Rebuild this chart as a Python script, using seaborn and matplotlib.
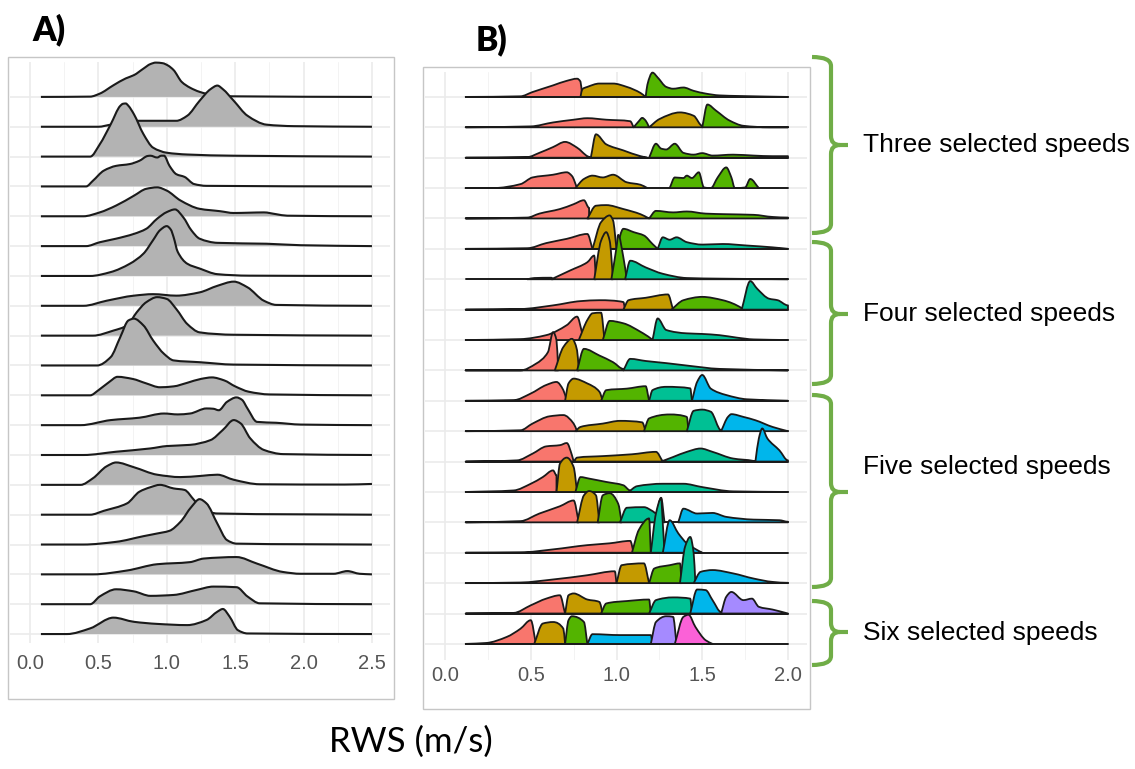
import matplotlib
matplotlib.use("Agg")
import matplotlib.pyplot as plt
from matplotlib.patches import Rectangle, PathPatch
from matplotlib.path import Path
import seaborn as sns

# ---- data: (RWS, ridge height in row units) ----
ridges_a = [
    [(0.08, 0), (0.44, 0.01), (0.51, 0.11), (0.61, 0.39), (0.70, 0.62), (0.76, 0.73), (0.83, 0.95), (0.88, 1.10),
     (0.92, 1.15), (0.97, 1.13), (1.01, 1.05), (1.05, 0.90), (1.11, 0.50), (1.17, 0.31), (1.24, 0.17), (1.34, 0.06),
     (1.49, 0.02), (2.5, 0)],
    [(0.08, 0), (0.50, 0.0), (0.59, 0.07), (0.80, 0.20), (1.00, 0.20), (1.07, 0.20), (1.15, 0.37), (1.24, 0.87),
     (1.32, 1.26), (1.37, 1.38), (1.41, 1.26), (1.49, 0.87), (1.59, 0.37), (1.73, 0.07), (1.93, 0.02), (2.5, 0)],
    [(0.08, 0), (0.44, 0), (0.51, 0.41), (0.59, 1.08), (0.66, 1.70), (0.68, 1.77), (0.70, 1.78), (0.72, 1.70),
     (0.76, 1.42), (0.83, 0.75), (0.90, 0.30), (1.00, 0.13), (1.15, 0.07), (1.49, 0.03), (2.5, 0)],
    [(0.08, 0), (0.41, 0), (0.46, 0.19), (0.54, 0.53), (0.63, 0.69), (0.73, 0.75), (0.80, 0.86), (0.86, 1.02),
     (0.88, 1.03), (0.93, 0.97), (0.96, 1.03), (0.98, 1.03), (1.02, 0.69), (1.07, 0.41), (1.13, 0.32), (1.20, 0.08),
     (1.29, 0.02), (2.5, 0)],
    [(0.08, 0), (0.39, 0), (0.51, 0.13), (0.63, 0.36), (0.76, 0.69), (0.85, 0.92), (0.93, 0.97), (1.00, 0.86),
     (1.10, 0.53), (1.24, 0.25), (1.39, 0.17), (1.49, 0.11), (1.60, 0.12), (1.71, 0.13), (1.80, 0.07), (1.88, 0.02),
     (2.5, 0)],
    [(0.08, 0), (0.41, 0), (0.51, 0.13), (0.63, 0.25), (0.76, 0.41), (0.85, 0.58), (0.93, 0.92), (1.00, 1.14),
     (1.06, 1.23), (1.12, 0.97), (1.18, 0.53), (1.24, 0.25), (1.37, 0.11), (1.73, 0.08), (1.98, 0.03), (2.5, 0)],
    [(0.08, 0), (0.44, 0), (0.59, 0.13), (0.73, 0.41), (0.83, 0.75), (0.90, 1.20), (0.95, 1.53), (1.00, 1.67),
     (1.03, 1.55), (1.05, 1.30), (1.08, 0.81), (1.15, 0.41), (1.24, 0.25), (1.37, 0.06), (1.6, 0.01), (2.5, 0)],
    [(0.08, 0), (0.39, 0), (0.56, 0.17), (0.76, 0.34), (0.90, 0.39), (1.07, 0.34), (1.24, 0.45), (1.37, 0.67),
     (1.49, 0.81), (1.59, 0.62), (1.71, 0.17), (1.80, 0.03), (2.5, 0)],
    [(0.08, 0), (0.46, 0), (0.61, 0.17), (0.71, 0.34), (0.78, 0.78), (0.85, 1.12), (0.93, 1.29), (1.00, 1.23),
     (1.07, 0.89), (1.15, 0.39), (1.24, 0.11), (1.49, 0.03), (2.5, 0)],
    [(0.08, 0), (0.49, 0), (0.59, 0.28), (0.66, 0.95), (0.72, 1.51), (0.76, 1.57), (0.83, 1.34), (0.90, 0.84),
     (0.98, 0.39), (1.05, 0.17), (1.24, 0.11), (1.49, 0.03), (2.5, 0)],
    [(0.08, 0), (0.44, 0), (0.50, 0.17), (0.58, 0.45), (0.64, 0.62), (0.75, 0.55), (0.85, 0.40), (0.95, 0.27),
     (1.05, 0.30), (1.15, 0.42), (1.25, 0.55), (1.33, 0.60), (1.42, 0.50), (1.50, 0.30), (1.60, 0.12), (1.75, 0.03),
     (2.5, 0)],
    [(0.08, 0), (0.37, 0), (0.59, 0.17), (0.80, 0.25), (0.98, 0.39), (1.08, 0.36), (1.17, 0.39), (1.29, 0.56),
     (1.34, 0.55), (1.38, 0.50), (1.44, 0.78), (1.51, 0.93), (1.55, 0.85), (1.59, 0.56), (1.66, 0.11), (1.80, 0.08),
     (1.98, 0.02), (2.5, 0)],
    [(0.08, 0), (0.39, 0), (0.63, 0.11), (0.88, 0.22), (1.00, 0.30), (1.17, 0.34), (1.32, 0.50), (1.41, 0.84),
     (1.49, 1.17), (1.54, 1.06), (1.61, 0.56), (1.71, 0.17), (1.85, 0.03), (2.5, 0)],
    [(0.08, 0), (0.37, 0), (0.46, 0.22), (0.56, 0.62), (0.63, 0.75), (0.76, 0.59), (0.93, 0.34), (1.10, 0.26),
     (1.25, 0.30), (1.37, 0.34), (1.49, 0.17), (1.68, 0.02), (2.3, 0.01), (2.5, 0.03)],
    [(0.08, 0), (0.44, 0), (0.54, 0.13), (0.71, 0.38), (0.80, 0.77), (0.88, 0.92), (0.95, 1.00), (1.05, 0.88),
     (1.13, 0.83), (1.20, 0.49), (1.27, 0.16), (1.37, 0.04), (2.5, 0)],
    [(0.08, 0), (0.39, 0), (0.63, 0.09), (0.83, 0.28), (0.93, 0.37), (1.02, 0.46), (1.10, 0.76), (1.18, 1.26),
     (1.24, 1.52), (1.29, 1.38), (1.37, 0.70), (1.44, 0.15), (1.51, 0.03), (2.5, 0)],
    [(0.08, 0), (0.46, 0), (0.71, 0.13), (0.93, 0.34), (1.17, 0.41), (1.27, 0.53), (1.51, 0.58), (1.66, 0.36),
     (1.85, 0.08), (1.98, 0.02), (2.22, 0.02), (2.32, 0.11), (2.41, 0.02), (2.5, 0)],
    [(0.08, 0), (0.44, 0), (0.51, 0.26), (0.63, 0.50), (0.76, 0.43), (0.88, 0.28), (1.05, 0.31), (1.22, 0.48),
     (1.34, 0.59), (1.51, 0.57), (1.59, 0.26), (1.68, 0.03), (2.5, 0)],
    [(0.08, 0), (0.27, 0), (0.44, 0.19), (0.61, 0.55), (0.76, 0.41), (0.93, 0.34), (1.15, 0.30), (1.29, 0.47),
     (1.37, 0.75), (1.41, 0.84), (1.46, 0.58), (1.52, 0.13), (1.59, 0.02), (2.5, 0)],
]

# panel B: each row is a list of (cluster colour index, outline points)
ridges_b = [
    [(0, [(0.12, 0), (0.44, 0.02), (0.51, 0.16), (0.63, 0.38), (0.71, 0.53), (0.77, 0.60), (0.79, 0.50), (0.80, 0)]),
     (1, [(0.79, 0), (0.80, 0.25), (0.83, 0.33), (0.90, 0.44), (0.98, 0.44), (1.06, 0.33), (1.14, 0.13), (1.17, 0)]),
     (2, [(1.17, 0), (1.18, 0.40), (1.21, 0.80), (1.24, 0.64), (1.29, 0.33), (1.33, 0.27), (1.39, 0.31), (1.45, 0.20),
          (1.52, 0.11), (1.60, 0.05), (1.72, 0.03), (2.0, 0)])],
    [(0, [(0.12, 0), (0.50, 0.03), (0.63, 0.16), (0.75, 0.25), (0.83, 0.30), (0.94, 0.25), (1.08, 0.20), (1.10, 0)]),
     (2, [(1.10, 0), (1.13, 0.20), (1.15, 0.31), (1.17, 0.22), (1.19, 0)]),
     (1, [(1.19, 0), (1.25, 0.27), (1.37, 0.49), (1.45, 0.38), (1.50, 0.05), (1.50, 0)]),
     (2, [(1.50, 0), (1.53, 0.75), (1.58, 0.55), (1.66, 0.22), (1.74, 0.05), (1.89, 0), (2.0, 0)])],
    [(0, [(0.12, 0), (0.48, 0.02), (0.55, 0.16), (0.63, 0.35), (0.70, 0.52), (0.77, 0.33), (0.83, 0.05), (0.85, 0)]),
     (1, [(0.85, 0), (0.88, 0.77), (0.94, 0.44), (1.04, 0.24), (1.14, 0.05), (1.18, 0)]),
     (2, [(1.19, 0), (1.23, 0.46), (1.26, 0.30), (1.29, 0.27), (1.34, 0.46), (1.39, 0.16), (1.45, 0.10), (1.50, 0.15),
          (1.56, 0.07), (1.68, 0.10), (1.80, 0.07), (1.91, 0.05), (2.0, 0.05), (2.0, 0)])],
    [(0, [(0.12, 0), (0.28, 0), (0.44, 0.13), (0.51, 0.35), (0.63, 0.44), (0.71, 0.52), (0.74, 0.40), (0.77, 0)]),
     (1, [(0.76, 0), (0.81, 0.30), (0.86, 0.41), (0.92, 0.35), (0.98, 0.44), (1.06, 0.19), (1.14, 0.11), (1.18, 0)]),
     (2, [(1.31, 0), (1.34, 0.35), (1.39, 0.33), (1.41, 0.41), (1.44, 0.33), (1.48, 0.52), (1.51, 0.02), (1.55, 0),
          (1.59, 0.35), (1.64, 0.68), (1.67, 0.35), (1.69, 0), (1.75, 0.02), (1.78, 0.30), (1.83, 0)])],
    [(0, [(0.12, 0), (0.48, 0.03), (0.55, 0.16), (0.67, 0.31), (0.75, 0.47), (0.81, 0.60), (0.84, 0.35), (0.84, 0)]),
     (1, [(0.83, 0), (0.88, 0.42), (0.94, 0.44), (1.04, 0.31), (1.14, 0.14), (1.19, 0)]),
     (2, [(1.19, 0), (1.23, 0.25), (1.33, 0.20), (1.41, 0.23), (1.52, 0.16), (1.64, 0.14), (1.80, 0.12), (1.91, 0.05),
          (2.0, 0.03), (2.0, 0)])],
    [(0, [(0.12, 0), (0.48, 0.02), (0.59, 0.19), (0.71, 0.33), (0.83, 0.49), (0.86, 0)]),
     (1, [(0.86, 0), (0.91, 0.88), (0.96, 1.10), (0.98, 0.93), (1.00, 0)]),
     (2, [(1.00, 0), (1.04, 0.66), (1.10, 0.55), (1.16, 0.44), (1.21, 0.16), (1.24, 0)]),
     (3, [(1.24, 0), (1.27, 0.38), (1.31, 0.30), (1.35, 0.38), (1.41, 0.22), (1.50, 0.14), (1.62, 0.16), (1.76, 0.11),
          (1.91, 0.05), (2.0, 0)])],
    [(3, [(0.48, 0), (0.52, 0.04), (0.62, 0.05), (0.63, 0)]),
     (0, [(0.62, 0), (0.73, 0.29), (0.83, 0.56), (0.87, 0.78), (0.88, 0)]),
     (1, [(0.87, 0), (0.91, 1.27), (0.94, 1.55), (0.96, 1.27), (0.98, 0)]),
     (2, [(0.97, 0), (1.00, 1.05), (1.01, 1.46), (1.04, 0.72), (1.06, 0)]),
     (3, [(1.05, 0), (1.08, 0.61), (1.17, 0.39), (1.27, 0.18), (1.41, 0.04), (1.60, 0.02), (2.0, 0)])],
    [(0, [(0.12, 0), (0.44, 0.02), (0.63, 0.14), (0.79, 0.28), (0.90, 0.31), (1.04, 0.25), (1.05, 0)]),
     (1, [(1.04, 0), (1.07, 0.31), (1.17, 0.39), (1.30, 0.50), (1.33, 0)]),
     (2, [(1.32, 0), (1.39, 0.31), (1.50, 0.42), (1.62, 0.31), (1.73, 0.05), (1.74, 0)]),
     (3, [(1.73, 0), (1.78, 0.94), (1.82, 0.69), (1.89, 0.36), (1.94, 0.31), (2.0, 0.14), (2.0, 0)])],
    [(0, [(0.12, 0), (0.44, 0.03), (0.59, 0.16), (0.71, 0.49), (0.77, 0.77), (0.80, 0.22), (0.81, 0)]),
     (1, [(0.78, 0), (0.83, 0.66), (0.86, 0.88), (0.91, 0.90), (0.93, 0)]),
     (2, [(0.92, 0), (0.96, 0.63), (1.04, 0.55), (1.14, 0.27), (1.20, 0.05), (1.21, 0)]),
     (3, [(1.21, 0), (1.24, 0.71), (1.29, 0.33), (1.41, 0.22), (1.50, 0.20), (1.60, 0.16), (1.70, 0.08), (1.80, 0.02),
          (2.0, 0)])],
    [(0, [(0.12, 0), (0.44, 0), (0.53, 0.22), (0.60, 0.60), (0.63, 1.26), (0.65, 0.99), (0.66, 0)]),
     (1, [(0.64, 0), (0.69, 0.77), (0.74, 1.04), (0.77, 0.66), (0.78, 0)]),
     (2, [(0.77, 0), (0.81, 0.71), (0.90, 0.49), (0.98, 0.27), (1.04, 0.05), (1.04, 0)]),
     (3, [(1.04, 0), (1.08, 0.38), (1.17, 0.31), (1.29, 0.24), (1.41, 0.16), (1.60, 0.05), (2.0, 0)])],
    [(0, [(0.12, 0), (0.40, 0.02), (0.50, 0.24), (0.59, 0.52), (0.65, 0.62), (0.69, 0.35), (0.71, 0)]),
     (1, [(0.70, 0), (0.72, 0.57), (0.75, 0.73), (0.83, 0.57), (0.90, 0.30), (0.92, 0)]),
     (2, [(0.91, 0), (0.94, 0.35), (1.06, 0.40), (1.17, 0.48), (1.19, 0)]),
     (3, [(1.19, 0), (1.21, 0.35), (1.29, 0.46), (1.43, 0.41), (1.44, 0)]),
     (4, [(1.44, 0), (1.47, 0.62), (1.50, 0.85), (1.55, 0.40), (1.64, 0.19), (1.76, 0.05), (2.0, 0)])],
    [(0, [(0.12, 0), (0.44, 0.03), (0.51, 0.25), (0.61, 0.49), (0.69, 0.53), (0.75, 0.25), (0.77, 0)]),
     (1, [(0.76, 0), (0.79, 0.14), (0.92, 0.25), (1.02, 0.34), (1.15, 0.29), (1.17, 0)]),
     (2, [(1.16, 0), (1.19, 0.42), (1.31, 0.55), (1.41, 0.47), (1.42, 0)]),
     (3, [(1.41, 0), (1.45, 0.67), (1.50, 0.71), (1.55, 0.64), (1.61, 0.03), (1.61, 0)]),
     (4, [(1.61, 0), (1.65, 0.47), (1.67, 0.56), (1.74, 0.47), (1.81, 0.36), (1.91, 0.14), (2.0, 0.0)])],
    [(0, [(0.12, 0), (0.42, 0.04), (0.51, 0.26), (0.59, 0.50), (0.67, 0.54), (0.71, 0.61), (0.74, 0.21), (0.75, 0)]),
     (1, [(0.75, 0), (0.77, 0.13), (0.92, 0.18), (1.09, 0.24), (1.23, 0.32), (1.27, 0)]),
     (3, [(1.26, 0), (1.33, 0.15), (1.41, 0.32), (1.49, 0.43), (1.56, 0.32), (1.68, 0.10), (1.80, 0.02), (1.81, 0)]),
     (4, [(1.81, 0), (1.83, 0.76), (1.85, 1.09), (1.88, 0.76), (1.95, 0.37), (2.0, 0.04), (2.0, 0)])],
    [(0, [(0.12, 0), (0.40, 0.05), (0.50, 0.27), (0.57, 0.49), (0.63, 0.71), (0.65, 0.55), (0.65, 0)]),
     (1, [(0.65, 0), (0.67, 0.93), (0.71, 1.13), (0.75, 0.82), (0.77, 0)]),
     (2, [(0.76, 0), (0.79, 0.49), (0.84, 0.44), (0.94, 0.33), (1.04, 0.22), (1.08, 0.05), (1.08, 0)]),
     (3, [(1.07, 0), (1.12, 0.19), (1.27, 0.27), (1.39, 0.27), (1.50, 0.16), (1.68, 0.02), (2.0, 0)])],
    [(0, [(0.12, 0), (0.44, 0.04), (0.55, 0.29), (0.67, 0.53), (0.75, 0.72), (0.78, 0)]),
     (1, [(0.77, 0), (0.81, 0.89), (0.84, 1.03), (0.88, 0.89), (0.90, 0)]),
     (2, [(0.89, 0), (0.92, 0.89), (0.96, 0.96), (1.01, 0.61), (1.03, 0)]),
     (3, [(1.02, 0), (1.06, 0.48), (1.16, 0.50), (1.21, 0.37), (1.23, 0.30), (1.26, 0.81), (1.28, 0)]),
     (4, [(1.36, 0), (1.39, 0.45), (1.47, 0.29), (1.56, 0.31), (1.64, 0.18), (1.80, 0.09), (1.95, 0.07), (2.0, 0.02),
          (2.0, 0)])],
    [(0, [(0.12, 0), (0.44, 0.01), (0.63, 0.11), (0.83, 0.25), (0.96, 0.31), (1.08, 0.39), (1.10, 0)]),
     (2, [(1.09, 0), (1.13, 0.75), (1.19, 1.13), (1.20, 0)]),
     (3, [(1.20, 0), (1.23, 1.29), (1.26, 1.79), (1.27, 0.96), (1.28, 0)]),
     (4, [(1.27, 0), (1.31, 1.07), (1.36, 0.64), (1.41, 0.31), (1.47, 0.09), (1.50, 0.0)])],
    [(0, [(0.12, 0), (0.44, 0.02), (0.63, 0.12), (0.83, 0.26), (0.99, 0.39), (1.00, 0)]),
     (1, [(1.00, 0), (1.03, 0.59), (1.16, 0.65), (1.19, 0)]),
     (2, [(1.19, 0), (1.22, 0.48), (1.31, 0.59), (1.37, 0.65), (1.38, 0)]),
     (3, [(1.37, 0), (1.40, 1.20), (1.43, 1.52), (1.45, 0.98), (1.46, 0)]),
     (4, [(1.45, 0), (1.49, 0.37), (1.56, 0.43), (1.68, 0.32), (1.80, 0.15), (1.91, 0.04), (2.0, 0.01), (2.0, 0)])],
    [(0, [(0.12, 0), (0.40, 0.02), (0.50, 0.27), (0.59, 0.49), (0.67, 0.60), (0.70, 0)]),
     (1, [(0.70, 0), (0.72, 0.60), (0.75, 0.66), (0.83, 0.46), (0.90, 0.38), (0.92, 0)]),
     (2, [(0.91, 0), (0.94, 0.33), (1.06, 0.41), (1.19, 0.46), (1.20, 0)]),
     (3, [(1.19, 0), (1.23, 0.44), (1.33, 0.53), (1.43, 0.49), (1.44, 0)]),
     (4, [(1.43, 0), (1.47, 0.79), (1.52, 0.77), (1.56, 0.44), (1.61, 0.05), (1.61, 0)]),
     (5, [(1.61, 0), (1.64, 0.55), (1.67, 0.71), (1.74, 0.44), (1.79, 0.49), (1.83, 0.22), (1.91, 0.13), (2.0, 0.0)])],
    [(0, [(0.12, 0), (0.24, 0.03), (0.36, 0.23), (0.44, 0.50), (0.50, 0.78), (0.53, 0)]),
     (1, [(0.52, 0), (0.57, 0.67), (0.63, 0.72), (0.69, 0.50), (0.70, 0)]),
     (2, [(0.70, 0), (0.72, 0.78), (0.74, 0.91), (0.81, 0.72), (0.83, 0)]),
     (4, [(0.83, 0), (0.86, 0.32), (1.02, 0.29), (1.20, 0.29), (1.21, 0)]),
     (5, [(1.20, 0), (1.23, 0.72), (1.29, 0.91), (1.33, 0.89), (1.35, 0)]),
     (6, [(1.34, 0), (1.39, 0.89), (1.42, 0.96), (1.46, 0.56), (1.52, 0.12), (1.56, 0)])],
]

cluster_colors = ["#F8766D", "#C49A00", "#53B400", "#00C094", "#00B6EB", "#A58AFF", "#FB61D7"]
ticks_a = [0.0, 0.5, 1.0, 1.5, 2.0, 2.5]
ticks_b = [0.0, 0.5, 1.0, 1.5, 2.0]
# bracket label, top, bottom, tick, text centre (pixels)
groups = [("Three selected speeds", 57, 233, 145, 145),
          ("Four selected speeds", 242, 384, 314, 314),
          ("Five selected speeds", 395, 587, 492, 467),
          ("Six selected speeds", 601, 665, 632, 633)]

W, H = 1135, 769
sns.set_theme(style="white")
plt.rcParams['font.family'] = ['Liberation Sans', 'DejaVu Sans']

fig = plt.figure(figsize=(W / 100, H / 100), dpi=100)


def px_axes(left, top, right, bottom):
    return fig.add_axes([left / W, 1 - bottom / H, (right - left) / W, (bottom - top) / H])


def smooth_path(xs, ys, base, close=False):
    # rounded outline through the read points: monotone cubic (Fritsch-Carlson) drawn as Bezier pieces
    m = len(xs)
    h = [xs[k + 1] - xs[k] for k in range(m - 1)]
    d = [(ys[k + 1] - ys[k]) / h[k] if h[k] > 1e-9 else 0.0 for k in range(m - 1)]
    t = [0.0] * m
    t[0], t[-1] = d[0], d[-1]
    for k in range(1, m - 1):
        if d[k - 1] * d[k] <= 0 or h[k - 1] <= 1e-9 or h[k] <= 1e-9:
            t[k] = 0.0
        else:
            w1, w2 = 2 * h[k] + h[k - 1], h[k] + 2 * h[k - 1]
            t[k] = (w1 + w2) / (w1 / d[k - 1] + w2 / d[k])
    verts = [(xs[0], ys[0])]
    codes = [Path.MOVETO]
    for k in range(m - 1):
        if h[k] <= 1e-9:
            verts.append((xs[k + 1], ys[k + 1]))
            codes.append(Path.LINETO)
            continue
        c1 = (xs[k] + h[k] / 3, ys[k] + t[k] * h[k] / 3)
        c2 = (xs[k + 1] - h[k] / 3, ys[k + 1] - t[k + 1] * h[k] / 3)
        verts += [c1, c2, (xs[k + 1], ys[k + 1])]
        codes += [Path.CURVE4] * 3
    if close:
        verts += [(xs[-1], base), (xs[0], base), (xs[0], ys[0])]
        codes += [Path.LINETO, Path.LINETO, Path.CLOSEPOLY]
    return Path(verts, codes)


back = px_axes(0, 0, W, H)
back.set_xlim(0, W)
back.set_ylim(H, 0)
back.axis("off")


def style_panel(ax, xlim, ylim, nrows, major, pad):
    ax.set_xlim(xlim)
    ax.set_ylim(ylim)
    ax.set_xticks(major)
    ax.set_xticks([m + 0.25 for m in major[:-1]], minor=True)
    ax.set_xticklabels([f"{v:.1f}" for v in major])
    ax.set_yticks(range(nrows))
    ax.set_yticklabels([])
    ax.grid(which="major", axis="both", color="#ebebeb", lw=1.2)
    ax.grid(which="minor", axis="x", color="#f3f3f3", lw=0.7)
    for s in ax.spines.values():
        s.set_visible(False)
    ax.tick_params(axis="x", which="both", length=0, labelsize=14.5, labelcolor="#555555", pad=pad)
    ax.tick_params(axis="y", length=2.5, width=1.4, color="#333333", direction="in")
    ax.set_axisbelow(True)
    ax.patch.set_alpha(0)


# ---- panel A ----
ax_a = px_axes(10, 62, 390, 643)
n = len(ridges_a)
style_panel(ax_a, (-0.146, 2.632), (-0.30, 19.17), n, ticks_a, 8)
for i, pts in enumerate(ridges_a):
    base = n - 1 - i
    xs = [p[0] for p in pts]
    ys = [base + p[1] for p in pts]
    ax_a.add_patch(PathPatch(smooth_path(xs, ys, base, close=True), facecolor="#b3b3b3", lw=0,
                             zorder=2 + 2 * i, clip_on=False))
    ax_a.add_patch(PathPatch(smooth_path(xs, ys, base), fill=False, edgecolor="#1a1a1a", lw=1.5,
                             zorder=3 + 2 * i, clip_on=False))

# ---- panel B ----
ax_b = px_axes(425, 72, 807, 660)
n = len(ridges_b)
style_panel(ax_b, (-0.117, 2.111), (-0.53, 18.82), n, ticks_b, 4)
for i, row in enumerate(ridges_b):
    base = n - 1 - i
    sns.lineplot(x=[0.12, 2.0], y=[base, base], ax=ax_b, color="#1a1a1a", lw=1.4, zorder=3 + 3 * i)
    for ci, pts in row:
        xs = [p[0] for p in pts]
        ys = [base + p[1] for p in pts]
        ax_b.add_patch(PathPatch(smooth_path(xs, ys, base, close=True), facecolor=cluster_colors[ci],
                                 edgecolor="#1a1a1a", lw=1.3, joinstyle="round",
                                 zorder=4 + 3 * i, clip_on=False))

# ---- frames, labels, brackets ----
back.add_patch(Rectangle((8, 57), 386, 642, fill=False, edgecolor="#c6c6c6", lw=1.0))
back.add_patch(Rectangle((423, 67), 387, 642, fill=False, edgecolor="#c6c6c6", lw=1.0))
back.text(49, 30, "A)", fontsize=24, fontweight="heavy", color="black",
          family=["Lato", "DejaVu Sans"], ha="center", va="center")
back.text(491, 40, "B)", fontsize=24, fontweight="heavy", color="black",
          family=["Lato", "DejaVu Sans"], ha="center", va="center")
back.text(411, 742, "RWS (m/s)", fontsize=25, color="black", family=["Lato", "DejaVu Sans"],
          ha="center", va="center")

green = "#70AD47"
x0, x1, x2, r = 812, 831, 848, 9
for label, top, bottom, tick, text_y in groups:
    verts = [(x0, top), (x1, top), (x1, top + r), (x1, tick - r), (x1, tick), (x1 + r, tick), (x2, tick),
             (x0, bottom), (x1, bottom), (x1, bottom - r), (x1, tick + r), (x1, tick), (x1 + r, tick)]
    codes = [Path.MOVETO, Path.CURVE3, Path.CURVE3, Path.LINETO, Path.CURVE3, Path.CURVE3, Path.LINETO,
             Path.MOVETO, Path.CURVE3, Path.CURVE3, Path.LINETO, Path.CURVE3, Path.CURVE3]
    back.add_patch(PathPatch(Path(verts, codes), fill=False, edgecolor=green, lw=3.0, capstyle="butt"))
    back.text(863, text_y, label, fontsize=19, ha="left", va="center", color="black")

fig.savefig("out.png", dpi=100)
